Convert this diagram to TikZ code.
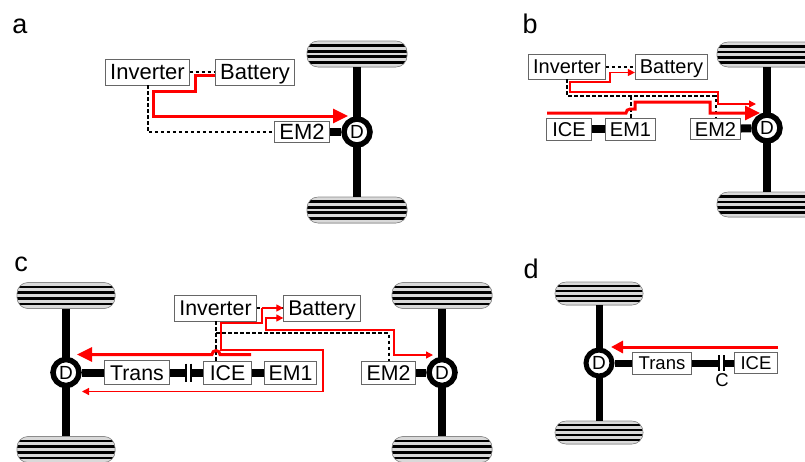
\documentclass[tikz,border=0pt]{standalone}
\usepackage{fontspec}
\setmainfont{Liberation Sans}
\usetikzlibrary{arrows.meta,calc}
\newcommand{\fsz}[1]{\fontsize{#1}{#1}\selectfont}

\begin{document}
\begin{tikzpicture}[x=1pt, y=-1pt,
  box/.style 2 args={rectangle, draw=black!60, fill=white, line width=0.9pt, inner xsep=4.5pt, inner ysep=0pt, minimum height=#2, font=\fsz{#1}, text height=0.72*#1 pt, text depth=0pt},
  diff/.style 2 args={circle, draw=black, fill=white, line width=#2, minimum size=#1, inner sep=0pt, font=\fsz{19}, text height=13.5pt, text depth=0pt},
  tyre/.style 2 args={rectangle, rounded corners=11pt, draw=black!45, fill=black, line width=0.6pt, minimum width=#1, minimum height=#2, inner sep=0pt,
    path picture={\foreach \s in {-0.43,-0.215,0,0.215,0.43}{
      \draw[white!85!black, line width=0.11*#2] ([yshift=\s*#2]path picture bounding box.west) -- ([yshift=\s*#2]path picture bounding box.east);}}},
  shaft/.style={black, line width=#1},
  shaft/.default=8pt,
  plate/.style={black, line width=1.6pt},
  ctrl/.style={black, line width=2pt, dash pattern=on 3.5pt off 2.5pt},
  bigflow/.style={red, line width=3pt, -{Triangle[length=15pt,width=14pt]}},
  smallflow/.style={red, line width=1.3pt, -{Triangle[length=7pt,width=7pt]}},
  lbl/.style={font=\fsz{27}, inner sep=0pt}
]
  \clip (0,0) rectangle (805,461);

  % axles
  \foreach \nm/\x/\y/\up/\dn/\w/\h/\sw/\rw in {a/357/132/78/78/100/26/8pt/5.5pt, b/767/128/73.5/76.5/100/25/8pt/5.5pt, c/66/372.5/77/77/98/26/8pt/5.5pt, e/442/372.5/77/77/100/26/8pt/5.5pt, d/599/363/69.5/69.5/88/23/7pt/5pt}{
    \node[tyre={\w}{\h}] (tu\nm) at (\x,\y-\up) {};
    \node[tyre={\w}{\h}] (tl\nm) at (\x,\y+\dn) {};
    \draw[shaft=\sw] (tu\nm) -- (tl\nm);
    \node[diff={26}{\rw}] (D\nm) at (\x,\y) {D};
  }

  % panel a
  \node[lbl] (la) at (20,26) {a};
  \node[box={22}{26}] (ina) at (147.5,72) {Inverter};
  \node[box={22}{26}] (bata) at (255,72) {Battery};
  \node[box={22}{21}] (ema) at (302,132) {EM2};
  \draw[shaft] (ema) -- (Da);
  \draw[ctrl] (ina) -- (bata);
  \draw[ctrl] (ina.south) |- (ema.west);
  \coordinate (ea) at (348,116);
  \draw[bigflow] ([yshift=-3pt]bata.west) -- (195,75) -- (195,91) -- (153,91) -- (153,116) -- (ea);

  % panel b
  \node[lbl] (lb) at (530,24) {b};
  \node[box={20}{25}] (inb) at (567,66.5) {Inverter};
  \node[box={20}{25}] (batb) at (671.5,66.5) {Battery};
  \node[box={20}{22}, inner xsep=6pt] (iceb) at (569,129) {ICE};
  \node[box={20}{22}] (emob) at (630.5,129) {EM1};
  \node[box={20}{21}] (emtb) at (715.5,129) {EM2};
  \draw[shaft] (iceb) -- (emob);
  \draw[shaft] (emtb) -- (Db);
  \draw[ctrl] (inb) -- (batb);
  \coordinate (jb) at (630.5,96);
  \draw[ctrl] (inb.south) |- (jb) -| (emtb.north);
  \draw[ctrl] (jb) -- (emob.north);
  \coordinate (sb) at (547,113);
  \coordinate (eb) at (760,113);
  \coordinate (fb) at (756,104);
  \draw[smallflow, {Triangle[length=7pt,width=7pt]}-{Triangle[length=7pt,width=7pt]}] ([yshift=-6pt]batb.west) -- (610,72.5) -- (610,82) -- (570,82) -- (570,92) -- (718,92) -- (718,104) -- (fb);
  \draw[bigflow] (sb) -- (626,113) arc[start angle=180, end angle=90, radius=4pt] -- (635,109) -- (635,102) -- (710,102) -- (710,113) -- (eb);

  % panel c
  \node[lbl] (lc) at (21,264) {c};
  \node[box={21.3}{26}] (inc) at (215.5,308) {Inverter};
  \node[box={21.3}{26}] (batc) at (322,308) {Battery};
  \node[box={21.3}{24}, inner xsep=6pt] (trc) at (137,372.5) {Trans};
  \node[box={21.3}{23}, inner xsep=6pt] (icec) at (227.5,372.5) {ICE};
  \node[box={21.3}{23}] (emoc) at (290.5,372.5) {EM1};
  \node[box={21.3}{23}, inner xsep=5.5pt] (emtc) at (388.5,372.5) {EM2};
  \coordinate (pca) at (186,372.5);
  \coordinate (pcb) at (191,372.5);
  \draw[shaft] (Dc) -- (trc);
  \draw[shaft] (trc) -- (pca);
  \draw[shaft] (pcb) -- (icec);
  \draw[plate] ([yshift=9pt]pca) -- ([yshift=-9pt]pca);
  \draw[plate] ([yshift=9pt]pcb) -- ([yshift=-9pt]pcb);
  \draw[shaft] (icec) -- (emoc);
  \draw[shaft] (emtc) -- (De);
  \draw[ctrl] (inc) -- (batc);
  \coordinate (jc) at (216,333);
  \draw[ctrl] (inc.south) -- (inc.south |- icec.north);
  \draw[ctrl] (jc) -| (emtc.north);
  \coordinate (sc) at (251,354.5);
  \coordinate (ec) at (77,354.5);
  \coordinate (fc) at (82,391.5);
  \coordinate (gc) at (433,355);
  \draw[smallflow] (262,308) -- (batc.west);
  \draw[smallflow] (262,308) -- (262,323) -- (221,323) -- (221,350) -- (323,350) -- (323,391.5) -- (fc);
  \draw[smallflow, {Triangle[length=7pt,width=7pt]}-{Triangle[length=7pt,width=7pt]}] ([yshift=-10pt]batc.west) -- (266,318) -- (266,330) -- (394,330) -- (394,355) -- (gc);
  \draw[bigflow] (sc) -- (220,354.5) arc[start angle=0, end angle=180, radius=4pt] -- (ec);

  % panel d
  \node[lbl] (ld) at (531,269) {d};
  \node[box={18.5}{22}, inner xsep=6pt] (trd) at (662,363) {Trans};
  \node[box={18.5}{21}, inner xsep=6pt] (iced) at (756,363) {ICE};
  \coordinate (pda) at (719,363);
  \coordinate (pdb) at (724,363);
  \draw[shaft=7pt] (Dd) -- (trd);
  \draw[shaft=7pt] (trd) -- (pda);
  \draw[shaft=7pt] (pdb) -- (iced);
  \draw[plate] ([yshift=8pt]pda) -- ([yshift=-8pt]pda);
  \draw[plate] ([yshift=8pt]pdb) -- ([yshift=-8pt]pdb);
  \node[font=\fsz{18.5}, inner sep=0pt] (cl) at (722,380) {C};
  \coordinate (sd) at (778,347);
  \coordinate (ed) at (611,347);
  \draw[bigflow, -{Triangle[length=12pt,width=12pt]}] (sd) -- (ed);
\end{tikzpicture}
\end{document}
